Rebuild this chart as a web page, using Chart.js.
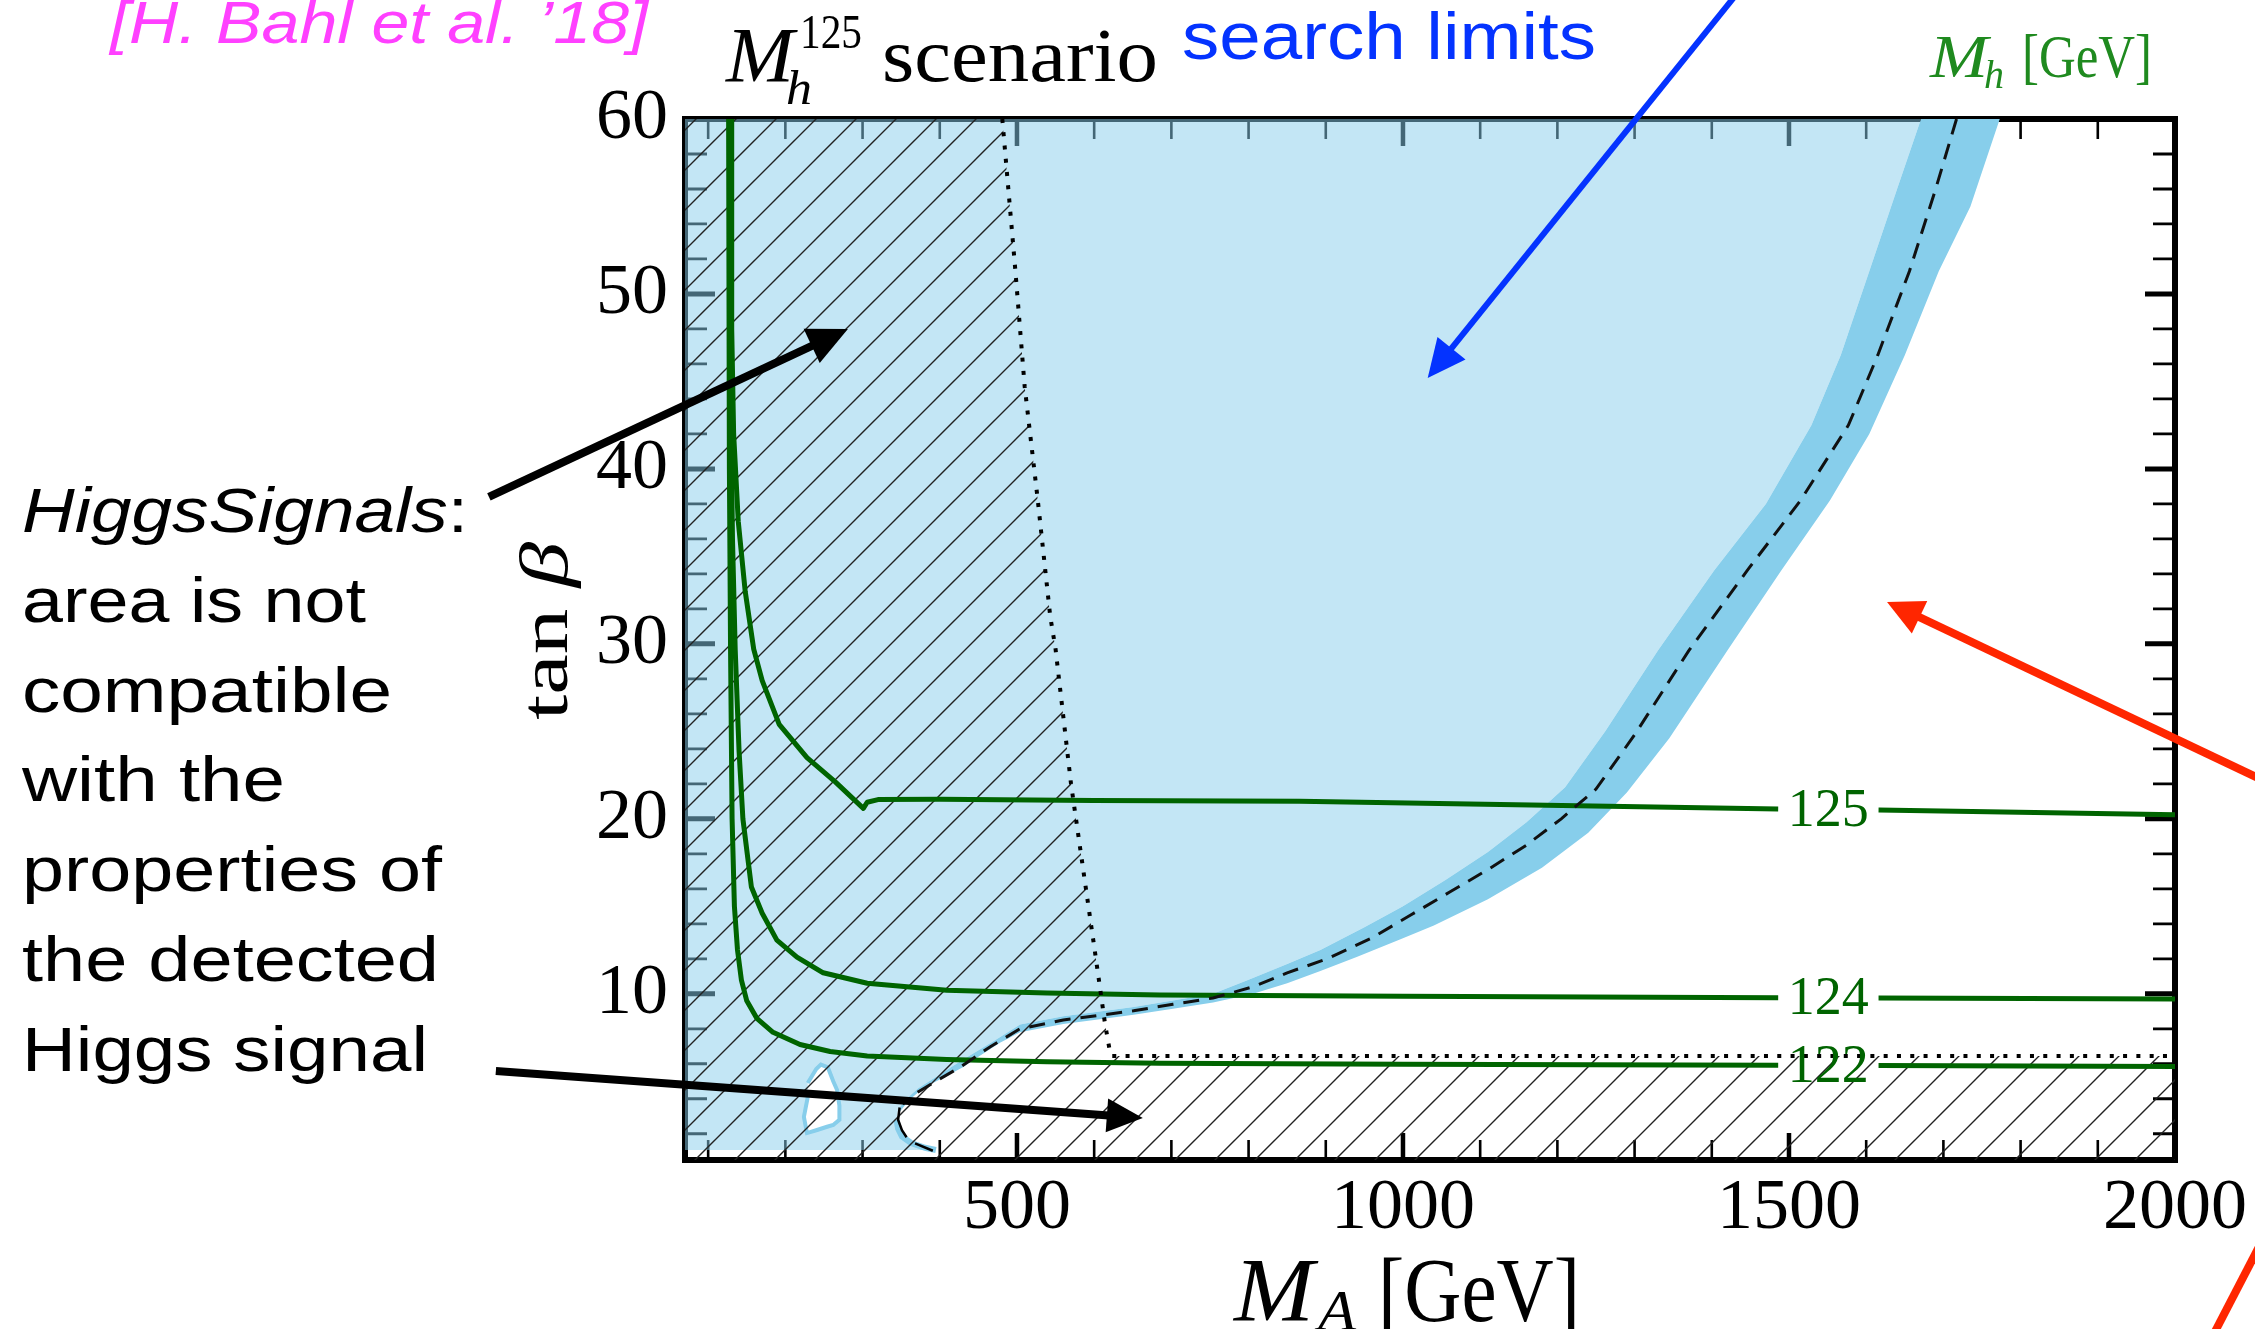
<!DOCTYPE html>
<html lang="en">
<head>
<meta charset="UTF-8">
<title>Mh125 scenario</title>
<script src="https://cdn.jsdelivr.net/npm/chart.js"></script>
<style>
  html, body { margin: 0; padding: 0; background: #fff; }
  #grafica { display: block; }
</style>
</head>
<body>
<canvas id="grafica" width="2255" height="1329"></canvas>
<script>
// ejes
const xMin = 70, xMax = 2000, yMin = 0.5, yMax = 60;
const xEtiquetas = [500, 1000, 1500, 2000];
const yEtiquetas = [10, 20, 30, 40, 50, 60];
const xMarcasMayores = [500, 1000, 1500];
const xMarcasMenores = [100, 200, 300, 400, 600, 700, 800, 900, 1100, 1200, 1300, 1400, 1600, 1700, 1800, 1900];
const yMarcasMayores = [10, 20, 30, 40, 50];
const yMarcasMenores = [2, 4, 6, 8, 12, 14, 16, 18, 22, 24, 26, 28, 32, 34, 36, 38, 42, 44, 46, 48, 52, 54, 56, 58];

// contornos de Mh (null = hueco para la etiqueta)
const mh125X = [130, 130.5, 133, 139, 148, 159, 170, 192, 228, 265, 301, 306, 320, 400, 600, 866, 1486, 1551, 1616, 2000];
const mh125Y = [60, 48, 42, 37, 33, 29.7, 27.9, 25.4, 23.5, 22.1, 20.6, 20.95, 21.1, 21.12, 21.05, 21.0, 20.56, null, 20.5, 20.24];
const mh124X = [128, 129, 131.5, 135, 140, 145, 156, 170, 189, 215, 249, 306, 409, 539, 685, 1000, 1486, 1551, 1616, 2000];
const mh124Y = [60, 45, 36, 29.7, 23.9, 20, 16.1, 14.6, 13.07, 12.1, 11.2, 10.6, 10.2, 10.05, 9.93, 9.86, 9.78, null, 9.76, 9.7];
const mh122X = [126.5, 127.5, 129, 131, 134, 138, 143, 150, 163, 184, 219, 258, 306, 409, 539, 685, 1000, 1486, 1551, 1616, 2000];
const mh122Y = [60, 40, 29.7, 20, 15, 12.5, 10.8, 9.6, 8.6, 7.8, 7.1, 6.7, 6.45, 6.25, 6.12, 6.03, 5.97, 5.92, null, 5.9, 5.85];
const etiquetasMh = ['125', '124', '122'];
const etiquetaMhX = 1551;

// limite observado (borde de la zona excluida) y borde de la banda
const obsBordeX = [1671, 1640, 1604, 1567, 1529, 1470, 1403, 1330, 1262, 1210, 1160, 1110, 1055, 1000, 950, 893, 850, 800, 754, 702, 651, 595, 560, 504, 470, 440, 418, 395, 372, 357, 346];
const obsBordeY = [60, 56, 51.3, 46.5, 42.5, 38, 34.2, 29.6, 25, 21.8, 19.8, 18.1, 16.5, 15, 13.8, 12.5, 11.7, 10.8, 10.0, 9.62, 9.25, 8.92, 8.72, 8.25, 7.3, 6.5, 5.9, 5.25, 4.6, 4.0, 3.4];
const obsPieX = [344, 346, 351, 363, 381, 395];
const obsPieY = [2.8, 2.3, 1.85, 1.47, 1.2, 1.07];
const fondoAzul = 1.07;
const bandaBordeX = [1773, 1735, 1694, 1650, 1604, 1553, 1490, 1420, 1345, 1290, 1240, 1180, 1110, 1040, 996, 940, 893, 850, 806, 754, 702, 651, 595, 560, 504, 478, 450, 430, 400, 378, 360, 349];
const bandaBordeY = [60, 55, 51.3, 46.5, 42, 38.2, 34.2, 29.6, 24.6, 21.5, 19.2, 17.2, 15.4, 13.9, 13.1, 12.1, 11.3, 10.6, 10.0, 9.5, 9.15, 8.8, 8.47, 8.27, 7.8, 7.2, 6.4, 5.8, 5.1, 4.6, 3.9, 3.3];
// limite esperado (discontinuo)
const espX = [1717, 1690, 1656, 1615, 1577, 1515, 1446, 1370, 1300, 1250, 1205, 1160, 1110, 1060, 1010, 960, 902, 850, 806, 754, 702, 651, 595, 560, 504, 465, 426, 391, 365, 352];
const espY = [60, 56, 51.3, 46.5, 42.5, 38.2, 34.2, 29.6, 24.8, 21.7, 20, 18.5, 17.1, 15.8, 14.5, 13.2, 12.0, 11.2, 10.4, 9.76, 9.4, 9.03, 8.7, 8.5, 8.0, 6.96, 5.8, 4.9, 4.2, 3.7];
const obsTrazoX = [348, 346, 351, 357, 362, 368, 391];
const obsTrazoY = [3.5, 2.8, 2.2, 1.8, null, 1.45, 1.03];
// islote no excluido
const islaX = [229, 240, 246, 255, 262, 267, 270, 270, 262, 254, 240, 228, 224, 229];
const islaY = [4.9, 5.7, 5.95, 5.8, 5.0, 4.5, 3.6, 2.8, 2.5, 2.4, 2.2, 2.04, 2.96, 4.1];

// HiggsSignals (punteado)
const hsX = [481, 498, 510, 527, 543, 550, 570, 589, 601, 608, 614, 620, 623, 2000];
const hsY = [60, 51.3, 44.7, 38.2, 31.6, 29.7, 22, 16.1, 12.4, 10.2, 8.3, 6.8, 6.44, 6.44];

// flechas [x1, y1, x2, y2] en unidades de los ejes
const flechaAzul = [1466, 69, 1032, 45.2];
const flechaRoja = [2162, 21.2, 1627, 32.4];
const trazoRojo = [2039, -10.4, 2110, -4.36];
const flechaHSArriba = [-184, 38.4, 281, 48.0];
const flechaHSAbajo = [-175, 5.59, 663, 2.9];

const puntos = (xs, ys) => xs.map((x, i) => ({ x: x, y: ys[i] }));

const zonaExcluida = [{ x: xMin, y: yMax }, { x: xMin, y: fondoAzul }]
  .concat(puntos(obsPieX, obsPieY).reverse(), puntos(obsBordeX, obsBordeY).reverse());
const banda = puntos(obsBordeX, obsBordeY).concat(puntos(bandaBordeX, bandaBordeY).reverse());
const zonaHS = [{ x: xMin, y: yMax }].concat(puntos(hsX, hsY), [{ x: xMax, y: yMin }, { x: xMin, y: yMin }]);

function crearTrama() {
  const c = document.createElement('canvas');
  c.width = 40; c.height = 40;
  const g = c.getContext('2d');
  g.strokeStyle = '#222';
  g.lineWidth = 1.4;
  g.beginPath();
  g.moveTo(-5, 45); g.lineTo(45, -5);
  g.moveTo(-5, 5); g.lineTo(5, -5);
  g.moveTo(35, 45); g.lineTo(45, 35);
  g.stroke();
  const p = g.createPattern(c, 'repeat');
  p.setTransform(new DOMMatrix([1, 0, 0, 1, 15, 0]));
  return p;
}

const serif = '"Liberation Serif"';
const sans = '"Liberation Sans"';

// texto con ancho forzado
function texto(ctx, s, x, y, font, color, ancho) {
  ctx.save();
  ctx.font = font;
  ctx.fillStyle = color;
  ctx.textBaseline = 'alphabetic';
  const w = ctx.measureText(s).width;
  ctx.translate(x, y);
  if (ancho) ctx.scale(ancho / w, 1);
  ctx.fillText(s, 0, 0);
  ctx.restore();
}

// varias piezas seguidas, escaladas a un ancho total
function textoCompuesto(ctx, partes, x, y, color, ancho) {
  ctx.save();
  ctx.fillStyle = color;
  ctx.textBaseline = 'alphabetic';
  let total = 0;
  for (const p of partes) { ctx.font = p.f; total += (p.dx || 0) + ctx.measureText(p.t).width; }
  ctx.translate(x, y);
  if (ancho) ctx.scale(ancho / total, 1);
  let cx = 0;
  for (const p of partes) {
    ctx.font = p.f;
    cx += p.dx || 0;
    ctx.fillText(p.t, cx, p.dy || 0);
    cx += ctx.measureText(p.t).width;
  }
  ctx.restore();
}

function flecha(ctx, x1, y1, x2, y2, grosor, largo, ancho, color) {
  const a = Math.atan2(y2 - y1, x2 - x1);
  const bx = x2 - largo * Math.cos(a), by = y2 - largo * Math.sin(a);
  ctx.save();
  ctx.strokeStyle = color;
  ctx.fillStyle = color;
  ctx.lineWidth = grosor;
  ctx.lineCap = 'butt';
  ctx.beginPath();
  ctx.moveTo(x1, y1);
  ctx.lineTo(largo ? bx + 2 * Math.cos(a) : x2, largo ? by + 2 * Math.sin(a) : y2);
  ctx.stroke();
  if (largo) {
    ctx.beginPath();
    ctx.moveTo(x2, y2);
    ctx.lineTo(bx + ancho / 2 * Math.sin(a), by - ancho / 2 * Math.cos(a));
    ctx.lineTo(bx - ancho / 2 * Math.sin(a), by + ancho / 2 * Math.cos(a));
    ctx.closePath();
    ctx.fill();
  }
  ctx.restore();
}

// marco y marcas hacia dentro, por debajo de las zonas rellenas
const marcoYEjes = {
  id: 'marcoYEjes',
  beforeDatasetsDraw(chart) {
    const { ctx, chartArea: a, scales: { x, y } } = chart;
    ctx.save();
    ctx.strokeStyle = '#000';
    ctx.lineCap = 'butt';
    const marcasX = (vals, largo, grosor) => {
      ctx.lineWidth = grosor;
      ctx.beginPath();
      for (const v of vals) {
        const px = x.getPixelForValue(v);
        ctx.moveTo(px, a.bottom); ctx.lineTo(px, a.bottom - largo);
        ctx.moveTo(px, a.top); ctx.lineTo(px, a.top + largo);
      }
      ctx.stroke();
    };
    const marcasY = (vals, largo, grosor) => {
      ctx.lineWidth = grosor;
      ctx.beginPath();
      for (const v of vals) {
        const py = y.getPixelForValue(v);
        ctx.moveTo(a.left, py); ctx.lineTo(a.left + largo, py);
        ctx.moveTo(a.right, py); ctx.lineTo(a.right - largo, py);
      }
      ctx.stroke();
    };
    marcasX(xMarcasMenores, 20, 2.6);
    marcasX(xMarcasMayores, 27, 4.5);
    marcasY(yMarcasMenores, 22, 2.8);
    marcasY(yMarcasMayores, 30, 5);
    ctx.lineWidth = 6;
    ctx.strokeRect(a.left, a.top, a.right - a.left, a.bottom - a.top);
    ctx.restore();
  }
};

const anotaciones = {
  id: 'anotaciones',
  afterDraw(chart) {
    const { ctx, scales: { x, y } } = chart;
    const px = v => x.getPixelForValue(v);
    const py = v => y.getPixelForValue(v);

    // etiquetas de los contornos
    [[mh125X, mh125Y], [mh124X, mh124Y], [mh122X, mh122Y]].forEach(([xs, ys], k) => {
      const i = ys.indexOf(null);
      const yv = (ys[i - 1] + ys[i + 1]) / 2;
      ctx.save();
      ctx.font = '54px ' + serif;
      ctx.fillStyle = '#006400';
      ctx.textAlign = 'center';
      ctx.textBaseline = 'middle';
      ctx.fillText(etiquetasMh[k], px(etiquetaMhX), py(yv) + 2);
      ctx.restore();
    });

    // titulo del escenario
    texto(ctx, 'M', 726, 81, 'italic 78px ' + serif, '#000', 68);
    texto(ctx, 'h', 786, 104, 'italic 48px ' + serif, '#000', 26);
    texto(ctx, '125', 800, 48, '48px ' + serif, '#000', 62);
    texto(ctx, 'scenario', 882, 81, '76px ' + serif, '#000', 276);

    // titulos de los ejes
    texto(ctx, 'M', 1234, 1321, 'italic 90px ' + serif, '#000', 80);
    texto(ctx, 'A', 1318, 1330, 'italic 56px ' + serif, '#000', 38);
    texto(ctx, '[GeV]', 1378, 1321, '90px ' + serif, '#000', 202);
    ctx.save();
    ctx.translate(567, 720);
    ctx.rotate(-Math.PI / 2);
    textoCompuesto(ctx, [{ t: 'tan', f: '68px ' + serif }, { t: 'β', f: 'italic 68px ' + serif, dx: 16 }], 0, 0, '#000', 178);
    ctx.restore();

    // unidades de los contornos
    texto(ctx, 'M', 1930, 77, 'italic 62px ' + serif, '#1f8a1f', 58);
    texto(ctx, 'h', 1984, 88, 'italic 40px ' + serif, '#1f8a1f', 20);
    texto(ctx, '[GeV]', 2022, 77, '62px ' + serif, '#1f8a1f', 130);

    // textos del margen
    texto(ctx, '[H. Bahl et al. \u201918]', 110, 43, 'italic 60px ' + sans, '#ff40ff', 538);
    texto(ctx, 'search limits', 1182, 59, '66px ' + sans, '#0433ff', 414);
    textoCompuesto(ctx, [{ t: 'HiggsSignals', f: 'italic 63px ' + sans }, { t: ':', f: '63px ' + sans }], 22, 532, '#000', 446);
    const lineas = [['area is not', 344], ['compatible', 370], ['with the', 263], ['properties of', 420], ['the detected', 417], ['Higgs signal', 406]];
    lineas.forEach(([s, w], i) => texto(ctx, s, 22, 622 + i * 89.7, '63px ' + sans, '#000', w));

    // flechas
    const f = (d, g, l, w, c) => flecha(ctx, px(d[0]), py(d[1]), px(d[2]), py(d[3]), g, l, w, c);
    f(flechaAzul, 6, 38, 36, '#0433ff');
    f(flechaRoja, 8, 36, 36, '#ff2600');
    f(trazoRojo, 8, 0, 0, '#ff2600');
    f(flechaHSArriba, 8, 40, 38, '#000');
    f(flechaHSAbajo, 8, 36, 34, '#000');
  }
};

const trama = crearTrama();

new Chart(document.getElementById('grafica'), {
  type: 'line',
  data: {
    datasets: [
      { data: zonaExcluida, fill: 'shape', backgroundColor: 'rgba(135,206,235,0.5)', borderWidth: 0, borderColor: 'rgba(0,0,0,0)', order: 10 },
      { data: banda, fill: 'shape', backgroundColor: '#87ceeb', borderWidth: 0, borderColor: 'rgba(0,0,0,0)', order: 9 },
      { data: puntos(islaX, islaY), fill: 'shape', backgroundColor: '#ffffff', borderColor: '#87ceeb', borderWidth: 4, order: 8 },
      { data: puntos(obsPieX, obsPieY), fill: false, borderColor: '#87ceeb', borderWidth: 6, order: 8 },
      { data: zonaHS, fill: 'shape', backgroundColor: trama, borderWidth: 0, borderColor: 'rgba(0,0,0,0)', order: 7 },
      { data: puntos(mh125X, mh125Y), fill: false, borderColor: '#006400', borderWidth: 5, borderJoinStyle: 'round', order: 5 },
      { data: puntos(mh124X, mh124Y), fill: false, borderColor: '#006400', borderWidth: 5, borderJoinStyle: 'round', order: 5 },
      { data: puntos(mh122X, mh122Y), fill: false, borderColor: '#006400', borderWidth: 5, borderJoinStyle: 'round', order: 5 },
      { data: puntos(espX, espY), fill: false, borderColor: '#111', borderWidth: 3, borderDash: [16, 10], order: 4 },
      { data: puntos(hsX, hsY), fill: false, borderColor: '#000', borderWidth: 4, borderDash: [4, 9.3], order: 3 },
      { data: puntos(obsTrazoX, obsTrazoY), fill: false, borderColor: '#000', borderWidth: 2.5, order: 3 }
    ]
  },
  options: {
    responsive: false,
    devicePixelRatio: 1,
    animation: false,
    events: [],
    layout: { padding: { top: 119, right: 80, bottom: 0, left: 0 } },
    plugins: { legend: { display: false }, tooltip: { enabled: false } },
    elements: { point: { radius: 0 }, line: { tension: 0 } },
    scales: {
      x: {
        type: 'linear', min: xMin, max: xMax,
        grid: { display: false, drawTicks: false, tickLength: 0 },
        border: { display: false },
        ticks: { font: { family: 'Liberation Serif', size: 72 }, color: '#000', padding: 6, maxRotation: 0, autoSkip: false, callback: v => String(v) },
        afterBuildTicks: s => { s.ticks = xEtiquetas.map(v => ({ value: v })); },
        afterFit: s => { s.height = 169; }
      },
      y: {
        type: 'linear', min: yMin, max: yMax,
        grid: { display: false, drawTicks: false, tickLength: 0 },
        border: { display: false },
        ticks: { font: { family: 'Liberation Serif', size: 72 }, color: '#000', padding: 17, autoSkip: false, callback: v => String(v) },
        afterBuildTicks: s => { s.ticks = yEtiquetas.map(v => ({ value: v })); },
        afterFit: s => { s.width = 685; }
      }
    }
  },
  plugins: [marcoYEjes, anotaciones]
});
</script>
</body>
</html>
